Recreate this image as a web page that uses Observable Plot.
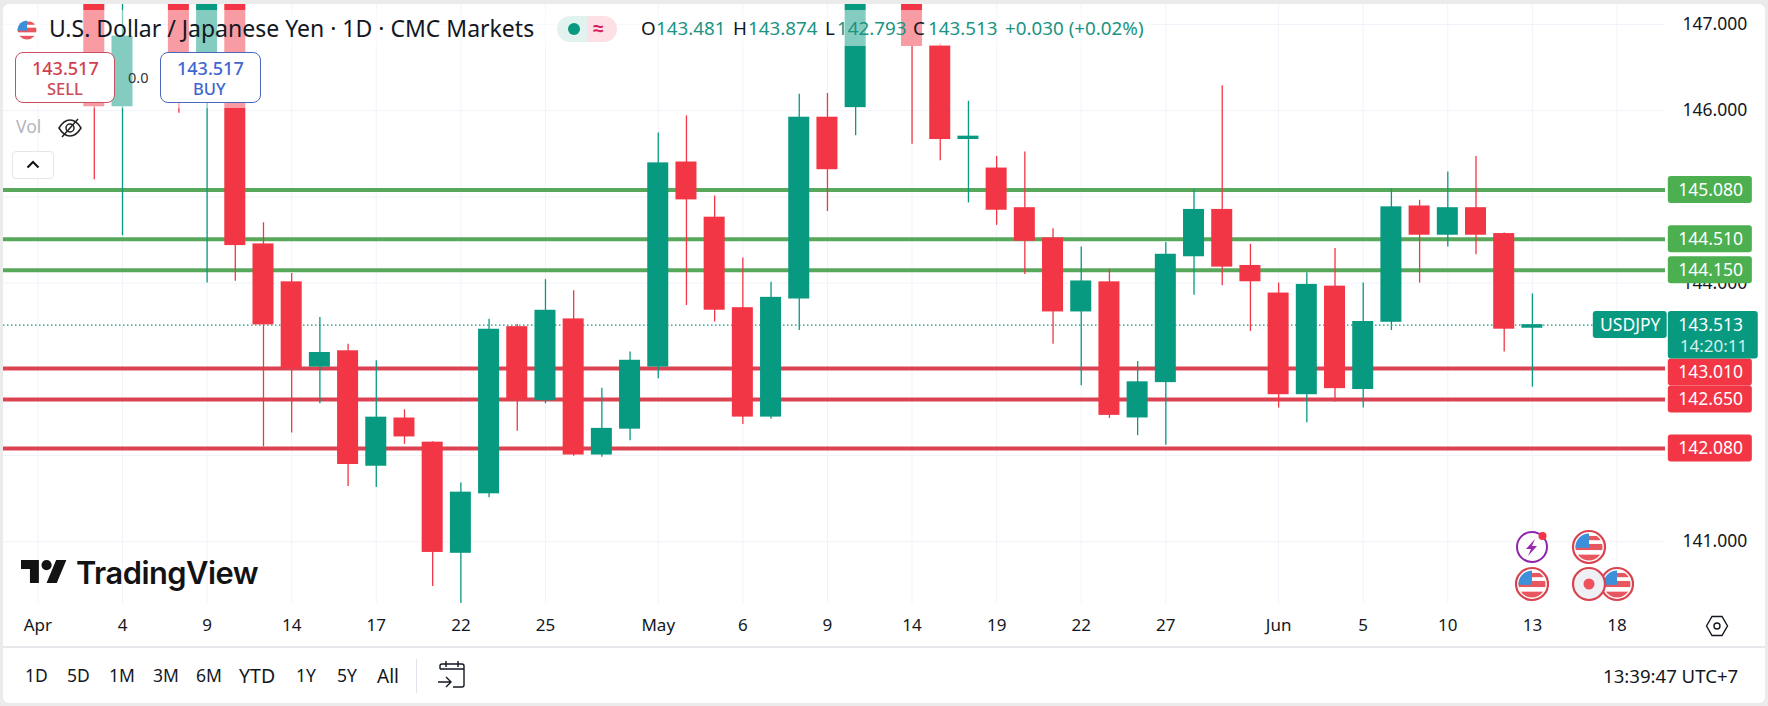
<!DOCTYPE html>
<html>
<head>
<meta charset="utf-8">
<script src="https://cdn.jsdelivr.net/npm/d3@7"></script>
<script src="https://cdn.jsdelivr.net/npm/@observablehq/plot@0.6"></script>
<style>
  html,body{margin:0;padding:0;background:#ebebeb;}
  #stage{position:relative;width:1768px;height:706px;overflow:hidden;font-family:"Noto Sans",sans-serif;color:#131722;}
  #panel{position:absolute;left:3px;top:4px;width:1762px;height:699px;background:#fff;border-radius:6px;}
  #chart{position:absolute;left:0;top:0;}
  .t{position:absolute;white-space:nowrap;transform:translateY(-50%);line-height:1;}
  .abs{position:absolute;}
</style>
</head>
<body>
<div id="stage">
  <div id="panel"></div>
  <div id="chart"></div>
  <div id="ui"></div>
</div>
<script>
const sessions = ["Apr 1","Apr 2","Apr 3","Apr 4","Apr 7","Apr 8","Apr 9","Apr 10","Apr 11","Apr 14","Apr 15","Apr 16","Apr 17","Apr 18","Apr 21","Apr 22","Apr 23","Apr 24","Apr 25","Apr 28","Apr 29","Apr 30","May 1","May 2","May 5","May 6","May 7","May 8","May 9","May 12","May 13","May 14","May 15","May 16","May 19","May 20","May 21","May 22","May 23","May 26","May 27","May 28","May 29","May 30","Jun 2","Jun 3","Jun 4","Jun 5","Jun 6","Jun 9","Jun 10","Jun 11","Jun 12","Jun 13","Jun 16","Jun 17","Jun 18"];
const opens  = [null,null,147.5,146.05,null,147.5,146.18,147.5,144.45,144.01,143.03,143.21,141.88,142.43,142.15,140.87,141.56,143.49,142.64,143.58,142.01,142.31,143.03,145.40,144.76,143.71,142.45,143.82,145.92,146.04,null,147.5,146.75,145.67,145.33,144.87,144.52,143.67,144.01,142.44,142.85,144.31,144.85,144.20,143.88,142.71,143.96,142.77,143.55,144.89,144.56,144.87,144.57,143.481,null,null,null];
const highs  = [null,null,147.7,147.6,null,147.7,147.7,147.7,144.70,144.11,143.60,143.29,143.10,142.53,142.16,141.68,143.58,143.52,144.04,143.91,142.78,143.20,145.74,145.94,145.01,144.29,144.01,146.19,146.20,147.7,null,147.7,146.77,146.11,145.47,145.52,144.63,144.42,144.16,143.09,144.47,145.09,146.29,144.45,144.00,144.12,144.40,144.00,145.09,144.96,145.29,145.47,144.58,143.874,null,null,null];
const lows   = [null,null,145.20,144.55,null,145.97,144.00,144.02,142.10,142.26,142.60,141.64,141.63,142.13,140.48,140.27,141.51,142.28,142.60,141.99,141.98,142.17,142.89,143.74,143.55,142.36,142.42,143.45,144.83,145.71,null,145.61,145.42,144.93,144.67,144.10,143.29,142.81,142.43,142.23,142.12,143.86,143.97,143.44,142.55,142.38,142.62,142.55,143.45,144.00,144.42,144.33,143.20,142.793,null,null,null];
const closes = [null,null,146.05,146.86,null,146.12,147.5,144.44,143.52,143.01,143.19,141.90,142.44,142.22,140.88,141.57,143.46,142.65,143.68,142.01,142.31,143.10,145.39,144.97,143.69,142.45,143.83,145.92,145.32,147.5,null,146.75,145.67,145.70,144.85,144.49,143.67,144.02,142.47,142.85,144.33,144.85,144.19,144.02,142.71,143.98,142.78,143.55,144.88,144.56,144.87,144.56,143.47,143.513,null,null,null];

const timeTicks = {"Apr 1":"Apr","Apr 4":"4","Apr 9":"9","Apr 14":"14","Apr 17":"17","Apr 22":"22","Apr 25":"25","May 1":"May","May 6":"6","May 9":"9","May 14":"14","May 19":"19","May 22":"22","May 27":"27","Jun 2":"Jun","Jun 5":"5","Jun 10":"10","Jun 13":"13","Jun 18":"18"};
const gridPrices = [141,142,143,144,145,146,147];
const priceLabels = [141,144,146,147];
const resistance = [145.08,144.51,144.15];
const supportUpper = [143.01];
const supportLower = [142.65];
const supportLowest = [142.08];
const lastPrice = 143.513;
const countdown = "14:20:11";
const symbolName = "USDJPY";

const UP = "#089981", DOWN = "#F23645", GRID = "#f0f3fa";
const LINE_G = "#58a85c", LINE_R = "#dc4352", TAG_G = "#4caf50";

const candles = sessions.map((s,i)=>({s,i,o:opens[i],h:highs[i],l:lows[i],c:closes[i]})).filter(d=>d.o!=null);
const colorOf = d => d.c >= d.o ? UP : DOWN;
const tickIdx = sessions.map((s,i)=>s in timeTicks ? i : null).filter(i=>i!=null);
const tickLabel = i => timeTicks[sessions[i]];

const W=1768,H=706,mL=3,mR=103,mT=4,mB=103;
const xDomain=[-1.22,57.72];
const yDomain=[140.283,147.232];
const tagL=57.82, tagR=60.80, tagWideR=61.01, symL=55.16, symR=57.78, tagMid=59.32, symMid=56.47;

const tag = (vals,color,dy)=>[
  Plot.rect(vals,{x1:()=>tagL,x2:()=>tagR,y1:d=>d,y2:d=>d,fill:color,insetTop:dy-13.5,insetBottom:-dy-13.5,rx:3}),
  Plot.text(vals,{x:()=>tagMid,y:d=>d,text:d=>d.toFixed(3),fill:"#fff",fontSize:17.5,dy})
];

const plot = Plot.plot({
  width:W,height:H,marginLeft:mL,marginRight:mR,marginTop:mT,marginBottom:mB,
  style:{background:"transparent",fontFamily:'"Noto Sans",sans-serif',color:"#131722"},
  x:{type:"linear",domain:xDomain},
  y:{type:"linear",domain:yDomain},
  marks:[
    Plot.gridX(tickIdx,{stroke:GRID,strokeOpacity:1}),
    Plot.gridY(gridPrices,{stroke:GRID,strokeOpacity:1}),
    Plot.ruleY([lastPrice],{stroke:UP,strokeWidth:1.2,strokeDasharray:"1.5,2.5"}),
    Plot.ruleY(resistance,{stroke:LINE_G,strokeWidth:4}),
    Plot.ruleY([...supportUpper,...supportLower,...supportLowest],{stroke:LINE_R,strokeWidth:4}),
    Plot.ruleX(candles,{x:"i",y1:"l",y2:"h",stroke:colorOf,strokeWidth:1.3,clip:true}),
    Plot.rect(candles,{x1:d=>d.i-0.3725,x2:d=>d.i+0.3725,y1:"o",y2:"c",fill:colorOf,insetTop:-0.4,insetBottom:-0.4,clip:true}),
    Plot.axisX({ticks:tickIdx,tickFormat:tickLabel,tickSize:0,tickPadding:15,fontSize:17,label:null}),
    Plot.axisY({anchor:"right",ticks:priceLabels,tickFormat:d=>d.toFixed(3),tickSize:0,tickPadding:17,fontSize:17.5,label:null}),
    ...tag(resistance,TAG_G,0),
    ...tag(supportUpper,DOWN,4),
    ...tag(supportLower,DOWN,0),
    ...tag(supportLowest,DOWN,0),
    Plot.rect([lastPrice],{x1:()=>symL,x2:()=>symR,y1:d=>d,y2:d=>d,fill:UP,insetTop:-13.6,insetBottom:-13.4,rx:3}),
    Plot.text([symbolName],{x:()=>symMid,y:()=>lastPrice,text:d=>d,fill:"#fff",fontSize:17.5,dy:0}),
    Plot.rect([lastPrice],{x1:()=>tagL,x2:()=>tagWideR,y1:d=>d,y2:d=>d,fill:UP,insetTop:-13.6,insetBottom:-34,rx:3}),
    Plot.text([lastPrice],{x:()=>tagMid,y:d=>d,text:d=>d.toFixed(3),fill:"#fff",fontSize:17.5}),
    Plot.text([countdown],{x:()=>tagMid+0.1,y:()=>lastPrice,text:d=>d,fill:"#d8efe9",fontSize:17,dy:21})
  ]
});
document.getElementById("chart").appendChild(plot);

/* ---- chart-window furniture ---- */
const ui=document.getElementById("ui");
function div(css,html=""){const e=document.createElement("div");e.className="abs";e.style.cssText=css;e.innerHTML=html;ui.appendChild(e);return e;}
function text(s,x,y,size,color="#131722",extra=""){const e=document.createElement("div");e.className="t";e.textContent=s;e.style.cssText=`left:${x}px;top:${y}px;font-size:${size}px;color:${color};${extra}`;ui.appendChild(e);return e;}
function flag(cx,cy,r,ring=true){
  const id="c"+cx+"_"+cy;
  return `<svg class="abs" style="left:${cx-r-2}px;top:${cy-r-2}px;overflow:visible" width="${2*r+4}" height="${2*r+4}" viewBox="${-r-2} ${-r-2} ${2*r+4} ${2*r+4}">
  <defs><clipPath id="${id}"><circle r="${r-3.5}"/></clipPath></defs>
  <circle r="${r-1}" fill="#fff" ${ring?'stroke="#d8434f" stroke-width="2.2"':''}/>
  <g clip-path="url(#${id})">
   <rect x="${-r}" y="${-r}" width="${2*r}" height="${2*r}" fill="#fff"/>
   <rect x="${-r}" y="${-r*0.18}" width="${2*r}" height="${r*0.36}" fill="#e8565f"/>
   <rect x="${-r}" y="${r*0.45}" width="${2*r}" height="${r}" fill="#e8565f"/>
   <rect x="${-r}" y="${-r}" width="${r}" height="${r*1.05}" fill="#3d8fd9"/>
   <rect x="${0}" y="${-r*0.65}" width="${r}" height="${r*0.25}" fill="#e8565f"/>
  </g></svg>`;
}

div("left:3px;top:10px;width:1150px;height:36px;background:rgba(255,255,255,.5)");
div("left:3px;top:46px;width:262px;height:62px;background:rgba(255,255,255,.5)");

ui.insertAdjacentHTML("beforeend",flag(27,30,13,false));
text("U.S. Dollar / Japanese Yen · 1D · CMC Markets",49,28,23);
div("left:557px;top:16px;width:30px;height:26px;background:#e2f3ef;border-radius:13px 0 0 13px");
div("left:587px;top:16px;width:30px;height:26px;background:#fde0e6;border-radius:0 13px 13px 0");
div("left:568px;top:23px;width:12px;height:12px;border-radius:50%;background:#089981");
text("≈",593,28,19,"#d81b60","font-weight:700");
const G="#1a9481";
text("O",641,28,18.8);text("143.481",656,28,18.8,G);
text("H",733,28,18.8);text("143.874",748,28,18.8,G);
text("L",825,28,18.8);text("142.793",837,28,18.8,G);
text("C",913,28,18.8);text("143.513",928,28,18.8,G);
text("+0.030 (+0.02%)",1005,28,18.8,G);

const mk=(x,w,c)=>div(`left:${x}px;top:52px;width:${w}px;height:51px;background:#fff;border:1.2px solid ${c};border-radius:8px;box-sizing:border-box`);
mk(15,100,"#c9505f");mk(160,101,"#4a69bd");
text("143.517",32,68,18,"#d2404f","font-weight:500");
text("SELL",47,89,16.5,"#cc4a58","font-weight:500");
text("0.0",128,77,14.5,"#333");
text("143.517",177,68,18,"#3f66d0","font-weight:500");
text("BUY",193,89,16.5,"#3f66d0","font-weight:500");

text("Vol",16,127,17.5,"#b2b5be");
ui.insertAdjacentHTML("beforeend",`<svg class="abs" style="left:57px;top:116px" width="26" height="24" viewBox="0 0 26 24" fill="none" stroke="#222" stroke-width="1.5"><path d="M2 12c3-5 7-8 11-8s8 3 11 8c-3 5-7 8-11 8s-8-3-11-8z"/><circle cx="13" cy="12" r="4"/><path d="M5 21L21 3"/></svg>`);
div("left:12px;top:151px;width:42px;height:28px;border:1px solid #e6e6e6;border-radius:4px;box-sizing:border-box;background:#fff");
ui.insertAdjacentHTML("beforeend",`<svg class="abs" style="left:26px;top:160px" width="14" height="9" viewBox="0 0 14 9" fill="none" stroke="#111" stroke-width="2"><path d="M1.5 7.5L7 2l5.5 5.5"/></svg>`);

ui.insertAdjacentHTML("beforeend",`<svg class="abs" style="left:21px;top:560px" width="46" height="23" viewBox="0 4 36 18" fill="#131313"><path d="M14 22H7V11H0V4h14v18zM28 22h-8l7.5-18h8L28 22z"/><circle cx="20" cy="8" r="4"/></svg>`);
text("TradingView",76,573,30.8,"#131313",'font-family:Inter,sans-serif;font-weight:600;letter-spacing:-.5px');

ui.insertAdjacentHTML("beforeend",flag(1589,547,17)+flag(1532,584,17)+flag(1617,584,17));
ui.insertAdjacentHTML("beforeend",`<svg class="abs" style="left:1514px;top:530px;overflow:visible" width="36" height="36" viewBox="-18 -17 36 36"><circle r="15" fill="#fff" stroke="#8e24aa" stroke-width="2"/><path d="M3-8L-6 2h5l-3 7 9-10H0z" fill="#9c27b0"/><circle cx="10.5" cy="-11" r="4" fill="#f23645"/></svg>
<svg class="abs" style="left:1571px;top:566px;overflow:visible" width="36" height="36" viewBox="-18 -18 36 36"><circle r="16" fill="#eef0f6" stroke="#d8434f" stroke-width="2.2"/><circle r="5.5" fill="#f0505c"/></svg>`);

div("left:3px;top:646px;width:1762px;height:1.5px;background:#e6e7ea");
[["1D",25,17.5],["5D",67,17.5],["1M",109,17.5],["3M",153,17.5],["6M",196,17.5],["YTD",239,19.5],["1Y",296,17.5],["5Y",337,17.5],["All",377,19]].forEach(([s,x,f])=>text(s,x,676,f));
div("left:416px;top:659px;width:1px;height:34px;background:#e0e3eb");
ui.insertAdjacentHTML("beforeend",`<svg class="abs" style="left:437px;top:661px" width="30" height="28" viewBox="0 0 30 28" fill="none" stroke="#131722" stroke-width="1.4"><path d="M3 8V5a2 2 0 0 1 2-2h20a2 2 0 0 1 2 2v19a2 2 0 0 1-2 2h-9M3 8h24M9 0v6M21 0v6M1 21h12M9 16l5 5-5 5"/></svg>`);
text("13:39:47 UTC+7",1603,676,18.6);
ui.insertAdjacentHTML("beforeend",`<svg class="abs" style="left:1705px;top:615px" width="24" height="22" viewBox="0 0 24 22" fill="none" stroke="#131722" stroke-width="1.4"><path d="M1.5 11L7 1.5h10L22.5 11 17 20.5H7z"/><circle cx="12" cy="11" r="3"/></svg>`);
</script>
</body>
</html>
